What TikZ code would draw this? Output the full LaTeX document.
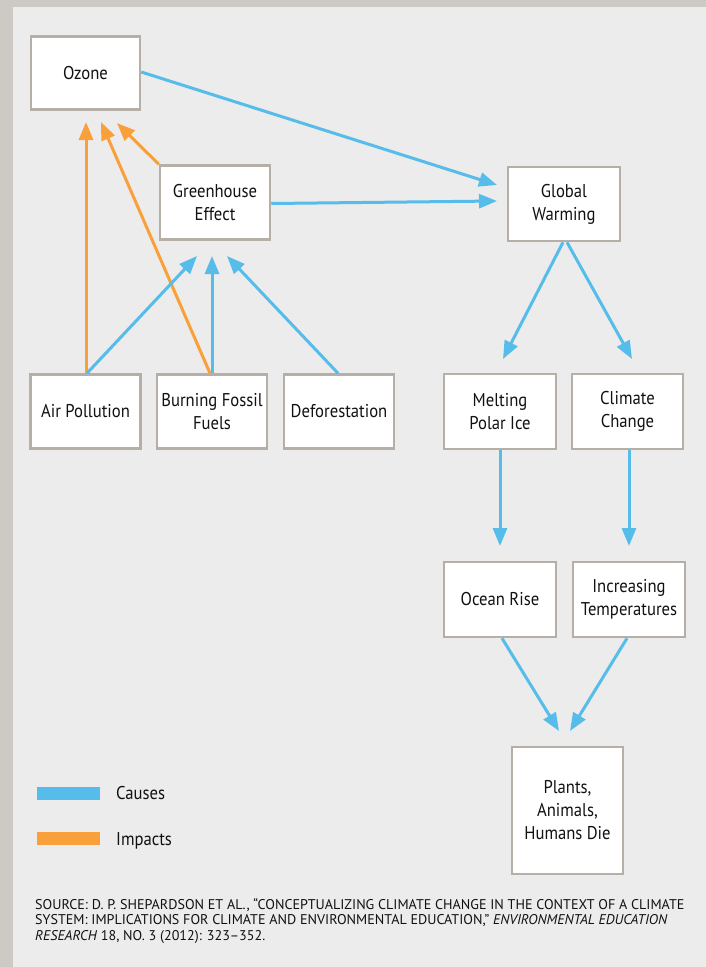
\documentclass[tikz,border=0pt]{standalone}
\usepackage{fontspec}
\setmainfont[FakeStretch=0.9]{PT Sans}
\newfontfamily\srcfont[Ligatures=TeX]{PT Sans}
\usetikzlibrary{arrows.meta}
\definecolor{frame}{HTML}{CDC9C5}
\definecolor{panel}{HTML}{ECECEC}
\definecolor{boxline}{HTML}{B5AFA8}
\definecolor{cause}{HTML}{56BCEA}
\definecolor{impact}{HTML}{F9A03A}
\definecolor{ink}{HTML}{111111}
\tikzset{
  cbox/.style={draw=boxline, line width=2.5pt, fill=white, inner sep=0pt,
    align=center, text=ink, font=\fontsize{18.5}{23}\selectfont},
  causearrow/.style={draw=cause, line width=3pt, -{Triangle[length=18pt,width=14pt]}},
  impactarrow/.style={draw=impact, line width=3pt, -{Triangle[length=18pt,width=14pt]}},
  legtext/.style={anchor=base west, text=ink, font=\fontsize{18.5}{23}\selectfont, inner sep=0pt},
  srctext/.style={anchor=base west, text=ink, font=\srcfont\fontsize{14.1}{15.5}\selectfont, inner sep=0pt}
}
\begin{document}
\begin{tikzpicture}[x=1pt,y=-1pt]
\useasboundingbox (0,0) rectangle (706,967);
\fill[frame] (0,0) rectangle (706,967);
\fill[panel] (13,7) rectangle (706,967);

% nodes
\node[cbox, minimum width=109pt, minimum height=73pt] (ozone) at (85.5,73) {Ozone};
\node[cbox, minimum width=110pt, minimum height=74pt] (ghe) at (215,202.5) {Greenhouse\\Effect};
\node[cbox, minimum width=110pt, minimum height=74pt] (air) at (85.5,411.5) {Air Pollution};
\node[cbox, minimum width=110pt, minimum height=74pt] (bff) at (212,411.5) {Burning Fossil\\Fuels};
\node[cbox, minimum width=110pt, minimum height=74pt] (def) at (339,411.5) {Deforestation};
\node[cbox, minimum width=112pt, minimum height=74pt] (gw) at (564,204) {Global\\Warming};
\node[cbox, minimum width=112pt, minimum height=75pt] (mpi) at (500,411.5) {Melting\\Polar Ice};
\node[cbox, minimum width=111pt, minimum height=75pt] (cc) at (627.5,411.5) {Climate\\Change};
\node[cbox, minimum width=112pt, minimum height=75pt] (ocean) at (500,599.5) {Ocean Rise};
\node[cbox, minimum width=112pt, minimum height=75pt] (inc) at (629,599.5) {Increasing\\Temperatures};
\node[cbox, minimum width=111pt, minimum height=127pt] (plants) at (567.5,810.5) {Plants,\\Animals,\\Humans Die};

% free arrow tips
\coordinate (tozA) at (86,122);
\coordinate (tozB) at (101,122);
\coordinate (tozG) at (117,123);
\coordinate (tgA) at (197,256);
\coordinate (tgB) at (212,256);
\coordinate (tgD) at (227,256);
\coordinate (tgwO) at (497,185);
\coordinate (tgwG) at (497,201);
\coordinate (tmpi) at (503,359);
\coordinate (tcc) at (632,359);
\coordinate (tocean) at (500,546);
\coordinate (tinc) at (629,546);
\coordinate (tpl1) at (559,731);
\coordinate (tpl2) at (570,731);

% impacts (orange)
\draw[impactarrow] ([xshift=0.5pt]air.north) -- (tozA);
\draw[impactarrow] ([xshift=-2pt]bff.north) -- (tozB);
\draw[impactarrow] (ghe.north west) -- (tozG);

% causes (blue)
\draw[causearrow] ([xshift=1.5pt]air.north) -- (tgA);
\draw[causearrow] (bff.north) -- (tgB);
\draw[causearrow] ([xshift=-1pt]def.north) -- (tgD);
\draw[causearrow] ([yshift=1pt]ozone.east) -- (tgwO);
\draw[causearrow] ([yshift=-1pt]ghe.east) -- (tgwG);
\draw[causearrow] ([xshift=-1pt]gw.south) -- (tmpi);
\draw[causearrow] ([xshift=3pt]gw.south) -- (tcc);
\draw[causearrow] (mpi.south) -- (tocean);
\draw[causearrow] ([xshift=1.5pt]cc.south) -- (tinc);
\draw[causearrow] ([xshift=2pt]ocean.south) -- (tpl1);
\draw[causearrow] ([xshift=-2pt]inc.south) -- (tpl2);

% legend
\fill[cause] (37,787) rectangle (100,800);
\fill[impact] (37,832) rectangle (100,845);
\node[legtext] (lc) at (116,799) {Causes};
\node[legtext] (li) at (116,845) {Impacts};

% source
\node[srctext] (s1) at (35,909) {SOURCE: D. P. SHEPARDSON ET AL., “CONCEPTUALIZING CLIMATE CHANGE IN THE CONTEXT OF A CLIMATE};
\node[srctext] (s2) at (35,924.5) {SYSTEM: IMPLICATIONS FOR CLIMATE AND ENVIRONMENTAL EDUCATION,” \textit{ENVIRONMENTAL EDUCATION}};
\node[srctext] (s3) at (35,940) {\textit{RESEARCH} 18, NO. 3 (2012): 323–352.};
\end{tikzpicture}
\end{document}
